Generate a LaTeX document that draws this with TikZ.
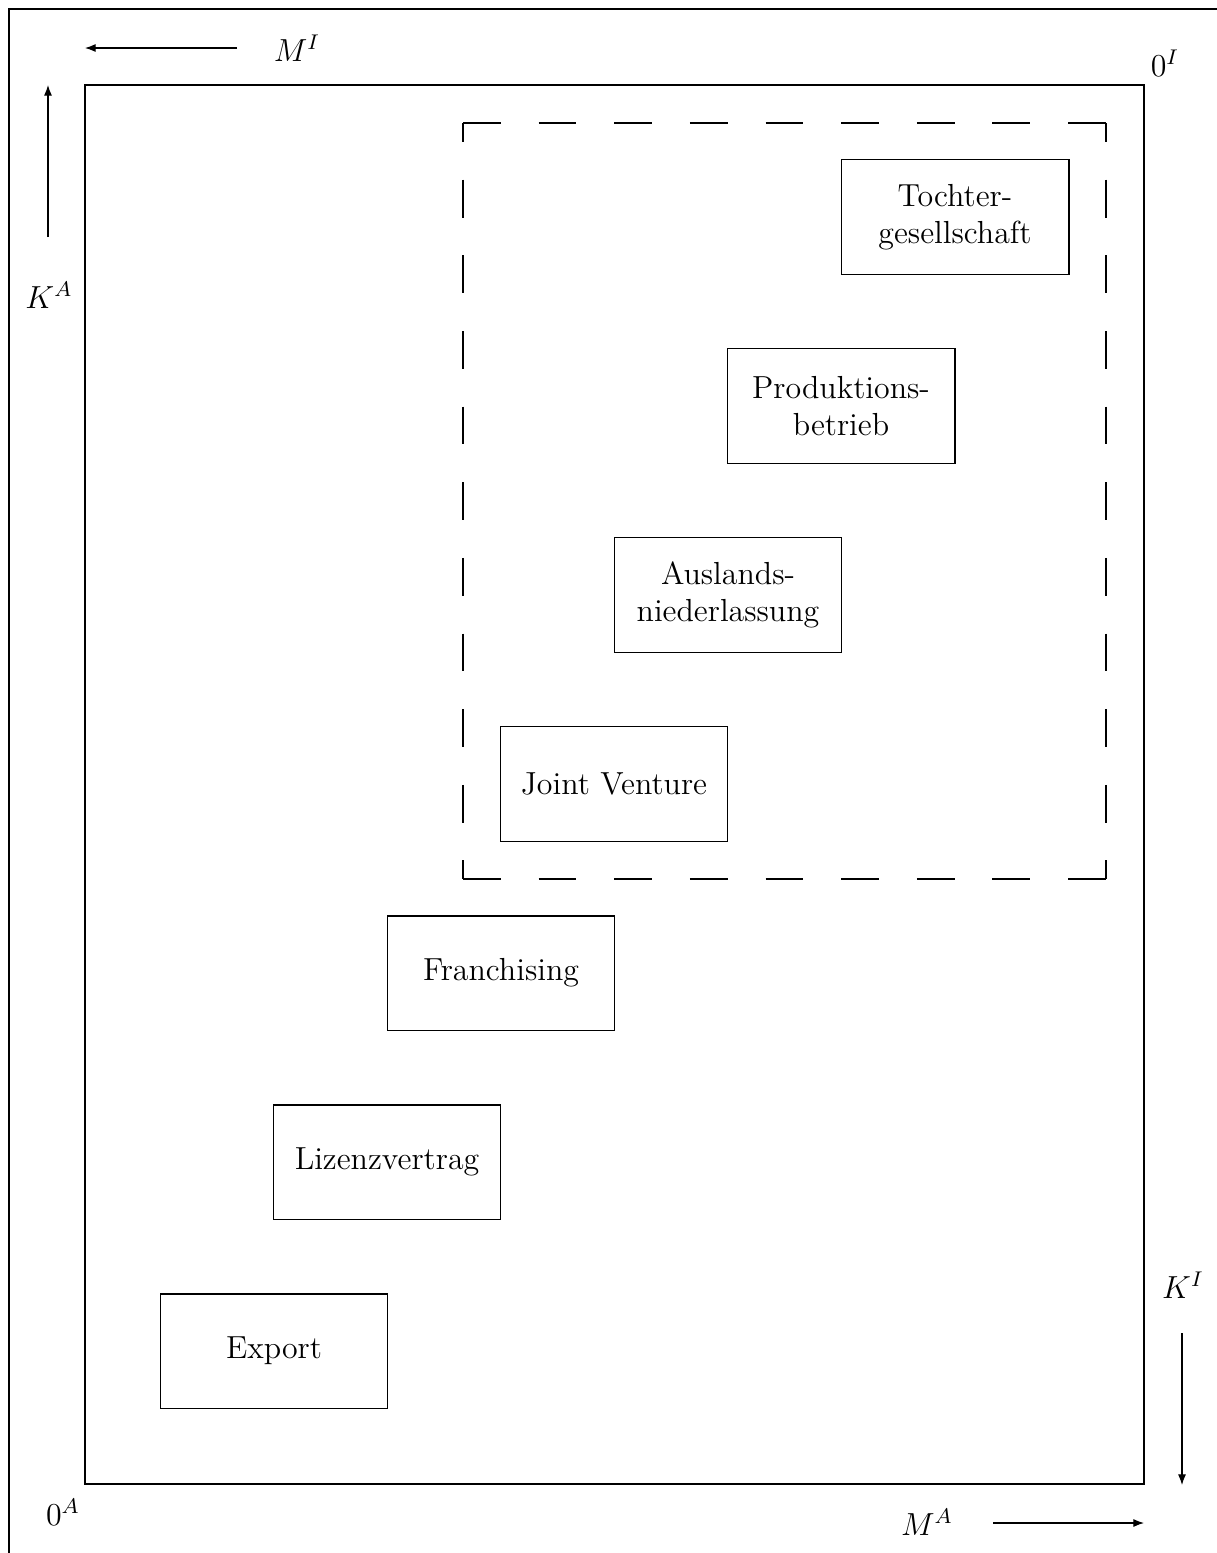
\documentclass[tikz,border=0pt]{standalone}
\usetikzlibrary{arrows.meta}
\begin{document}
\begin{tikzpicture}[x=0.376pt,y=-0.376pt,
  font=\fontsize{12}{13.8}\selectfont,
  thinline/.style={line width=0.4pt},
  modebox/.style={draw,thinline,minimum width=85.7pt,minimum height=42.9pt,
    align=center,inner sep=2pt},
  dashside/.style={thinline,dash pattern=on 14.22pt off 14.22pt},
  dashhalf/.style={dashside,dash phase=7.11pt},
  axisarrow/.style={thinline,-{Latex[length=4pt,width=3pt]}},
  axislabel/.style={inner sep=0pt}]
  \useasboundingbox (0,0) rectangle (1217,1553);
  % outer frame
  \draw[line width=0.6pt] (9,1560) -- (9,9) -- (1225,9);

  % Edgeworth box
  \coordinate (boxTL) at (85,85);
  \coordinate (boxBR) at (1144,1484);
  \draw[thinline] (boxTL) rectangle (boxBR);

  % region of direct investment, each side dashed on its own
  \coordinate (dTL) at (463,123);
  \coordinate (dTR) at (1106,123);
  \coordinate (dBR) at (1106,879);
  \coordinate (dBL) at (463,879);
  \draw[dashside] (dTL) -- (dTR);
  \draw[dashside] (dBL) -- (dBR);
  \draw[dashhalf] (dTL) -- (dBL);
  \draw[dashhalf] (dTR) -- (dBR);

  % market entry modes
  \node[modebox] (toch) at (955,217) {Tochter-\\gesellschaft};
  \node[modebox] (prod) at (841,406) {Produktions-\\betrieb};
  \node[modebox] (ausl) at (728,595) {Auslands-\\niederlassung};
  \node[modebox] (jv)   at (614,784) {Joint Venture};
  \node[modebox] (fran) at (501,973) {Franchising};
  \node[modebox] (liz)  at (387,1162) {Lizenzvertrag};
  \node[modebox] (exp)  at (274,1351) {Export};

  % axes of the foreign firm (A) and the domestic firm (I)
  \coordinate (miS) at (237,48);  \coordinate (miE) at (85,48);
  \coordinate (kaS) at (48,237);  \coordinate (kaE) at (48,85);
  \coordinate (kiS) at (1182,1333); \coordinate (kiE) at (1182,1485);
  \coordinate (maS) at (993,1523); \coordinate (maE) at (1144,1523);
  \draw[axisarrow] (miS) -- (miE);
  \draw[axisarrow] (kaS) -- (kaE);
  \draw[axisarrow] (kiS) -- (kiE);
  \draw[axisarrow] (maS) -- (maE);

  \node[axislabel] (lMI) at (297,48) {$M^I$};
  \node[axislabel] (lKA) at (49,295) {$K^A$};
  \node[axislabel] (l0I) at (1165,63) {$0^I$};
  \node[axislabel] (lKI) at (1183,1285) {$K^I$};
  \node[axislabel] (l0A) at (63,1512) {$0^A$};
  \node[axislabel] (lMA) at (927,1522) {$M^A$};
\end{tikzpicture}
\end{document}
